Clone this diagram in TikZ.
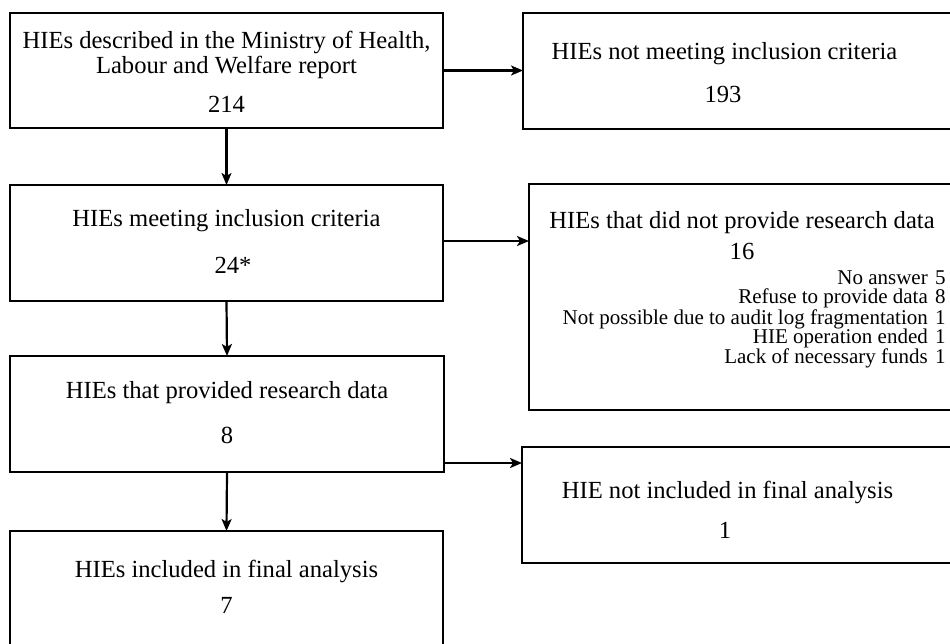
\documentclass[tikz,border=0pt]{standalone}
\usepackage{fontspec}
\setmainfont{Liberation Serif}
\usetikzlibrary{arrows.meta}
\begin{document}
\begin{tikzpicture}[x=1pt,y=-1pt,
  box/.style={draw, line width=2pt, inner sep=0pt, outer sep=0pt},
  arr/.style={line width=2.2pt, -{Stealth[length=12pt,width=10pt,inset=3pt]}},
  big/.style={font=\fontsize{24.6}{26}\selectfont, anchor=base, inner sep=0pt},
  lst/.style={font=\fontsize{21}{22}\selectfont, anchor=base east, inner sep=0pt},
  num/.style={font=\fontsize{21}{22}\selectfont, anchor=base west, inner sep=0pt}]
\useasboundingbox (0,0) rectangle (950,643);
\clip (0,0) rectangle (950,643);
% boxes
\node[box, minimum width=433pt, minimum height=115pt] (b1) at (226.5,70.5) {};
\node[box, minimum width=442pt, minimum height=116pt] (r1) at (744,71) {};
\node[box, minimum width=433pt, minimum height=116pt] (b2) at (226.5,243) {};
\node[box, minimum width=436pt, minimum height=226pt] (r2) at (747,297) {};
\node[box, minimum width=434pt, minimum height=116pt] (b3) at (227,414) {};
\node[box, minimum width=443pt, minimum height=116pt] (r3) at (743.5,505) {};
\node[box, minimum width=433pt, minimum height=129pt] (b4) at (226.5,595.5) {};
% texts
\node[big] (t1a) at (226.5,48) {HIEs described in the Ministry of Health,};
\node[big] (t1b) at (226.5,73) {Labour and Welfare report};
\node[big] (t1c) at (226.5,112) {214};
\node[big] (r1a) at (724.5,59) {HIEs not meeting inclusion criteria};
\node[big] (r1b) at (723,102) {193};
\node[big] (t2a) at (226.5,226) {HIEs meeting inclusion criteria};
\node[big] (t2b) at (233,273) {24*};
\node[big] (r2a) at (742,228) {HIEs that did not provide research data};
\node[big] (r2b) at (742,259) {16};
\node[lst] (l1) at (928,284) {No answer};
\node[lst] (l2) at (928,303) {Refuse to provide data};
\node[lst] (l3) at (928,324) {Not possible due to audit log fragmentation};
\node[lst] (l4) at (928,343) {HIE operation ended};
\node[lst] (l5) at (928,363) {Lack of necessary funds};
\node[num] (n1) at (935,284) {5};
\node[num] (n2) at (935,303) {8};
\node[num] (n3) at (935,324) {1};
\node[num] (n4) at (935,343) {1};
\node[num] (n5) at (935,363) {1};
\node[big] (t3a) at (227,398) {HIEs that provided research data};
\node[big] (t3b) at (227,443) {8};
\node[big] (r3a) at (727.5,498) {HIE not included in final analysis};
\node[big] (r3b) at (725,538) {1};
\node[big] (t4a) at (226.5,577) {HIEs included in final analysis};
\node[big] (t4b) at (226.5,613) {7};
% connectors
\draw[arr] (b1.south) -- (b2.north);
\draw[arr] (b2.south) -- (b3.north);
\draw[arr] (b3.south) -- (b4.north);
\draw[arr] (b1.east) -- (b1.east -| r1.west);
\draw[arr] ([yshift=2pt]b2.east) -- ([yshift=2pt]b2.east -| r2.west);
\draw[arr] ([yshift=9pt]b3.south east) -- ([yshift=9pt]b3.south east -| r3.west);
\end{tikzpicture}
\end{document}
